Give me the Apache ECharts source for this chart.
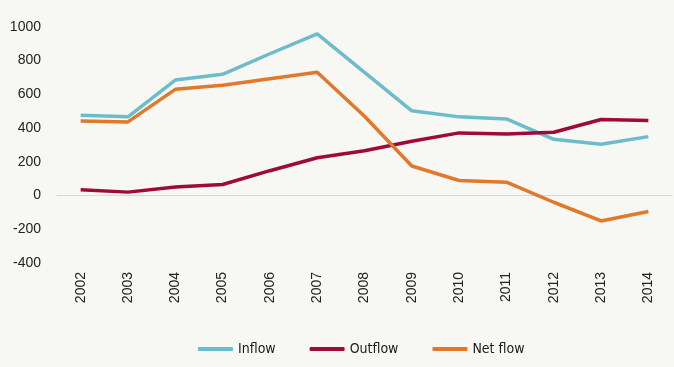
<!DOCTYPE html>
<html><head><meta charset="utf-8">
<script src="https://cdn.jsdelivr.net/npm/echarts@6/dist/echarts.min.js"></script>
<style>html,body{margin:0;padding:0;background:#f7f7f3;}#c{width:674px;height:367px;}</style>
</head><body><div id="c"></div>
<script>
const years = ['2002','2003','2004','2005','2006','2007','2008','2009','2010','2011','2012','2013','2014'];
const inflow  = [476, 466, 684, 718, 840, 958, 730, 502, 466, 454, 333, 304, 349];
const outflow = [34, 20, 50, 65, 147, 224, 265, 321, 371, 365, 375, 450, 444];
const netflow = [442, 436, 629, 653, 692, 730, 470, 175, 89, 79, -40, -151, -95];
const yTicks = { min: -400, max: 1200, interval: 200 };

const chart = echarts.init(document.getElementById('c'));
const font = "'Liberation Sans', Arial, sans-serif";
chart.setOption({
  backgroundColor: '#f7f7f3',
  animation: false,
  grid: { left: 57, right: 2, top: -7, bottom: 104, outerBoundsMode: 'none', containLabel: false },
  legend: {
    bottom: 11, left: 198, padding: 0,
    itemWidth: 35, itemHeight: 4, itemGap: 34, icon: 'roundRect',
    textStyle: { fontFamily: "'DejaVu Sans Condensed','Liberation Sans Narrow',sans-serif", fontSize: 14, color: '#1a1a1a', fontWeight: 500 },
    data: ['Inflow', 'Outflow', 'Net flow']
  },
  xAxis: {
    type: 'category', data: years, boundaryGap: true,
    axisLine: { onZero: true, lineStyle: { color: '#d6d6d6', width: 1 } },
    axisTick: { show: false },
    axisLabel: { rotate: 90, margin: 9, fontSize: 14, color: '#222', fontFamily: font }
  },
  yAxis: {
    type: 'value', min: yTicks.min, max: yTicks.max, interval: yTicks.interval,
    splitLine: { show: false },
    axisLine: { show: false }, axisTick: { show: false },
    axisLabel: { margin: 16, fontSize: 14, color: '#222', fontFamily: font, formatter: v => String(v) }
  },
  series: [
    { name: 'Inflow', type: 'line', data: inflow, symbol: 'none', lineStyle: { width: 3.5, color: '#6dbccb' }, itemStyle: { color: '#6dbccb' } },
    { name: 'Outflow', type: 'line', data: outflow, symbol: 'none', lineStyle: { width: 3.5, color: '#9e0a3c' }, itemStyle: { color: '#9e0a3c' } },
    { name: 'Net flow', type: 'line', data: netflow, symbol: 'none', lineStyle: { width: 3.5, color: '#e1782a' }, itemStyle: { color: '#e1782a' } }
  ]
});
</script></body></html>
